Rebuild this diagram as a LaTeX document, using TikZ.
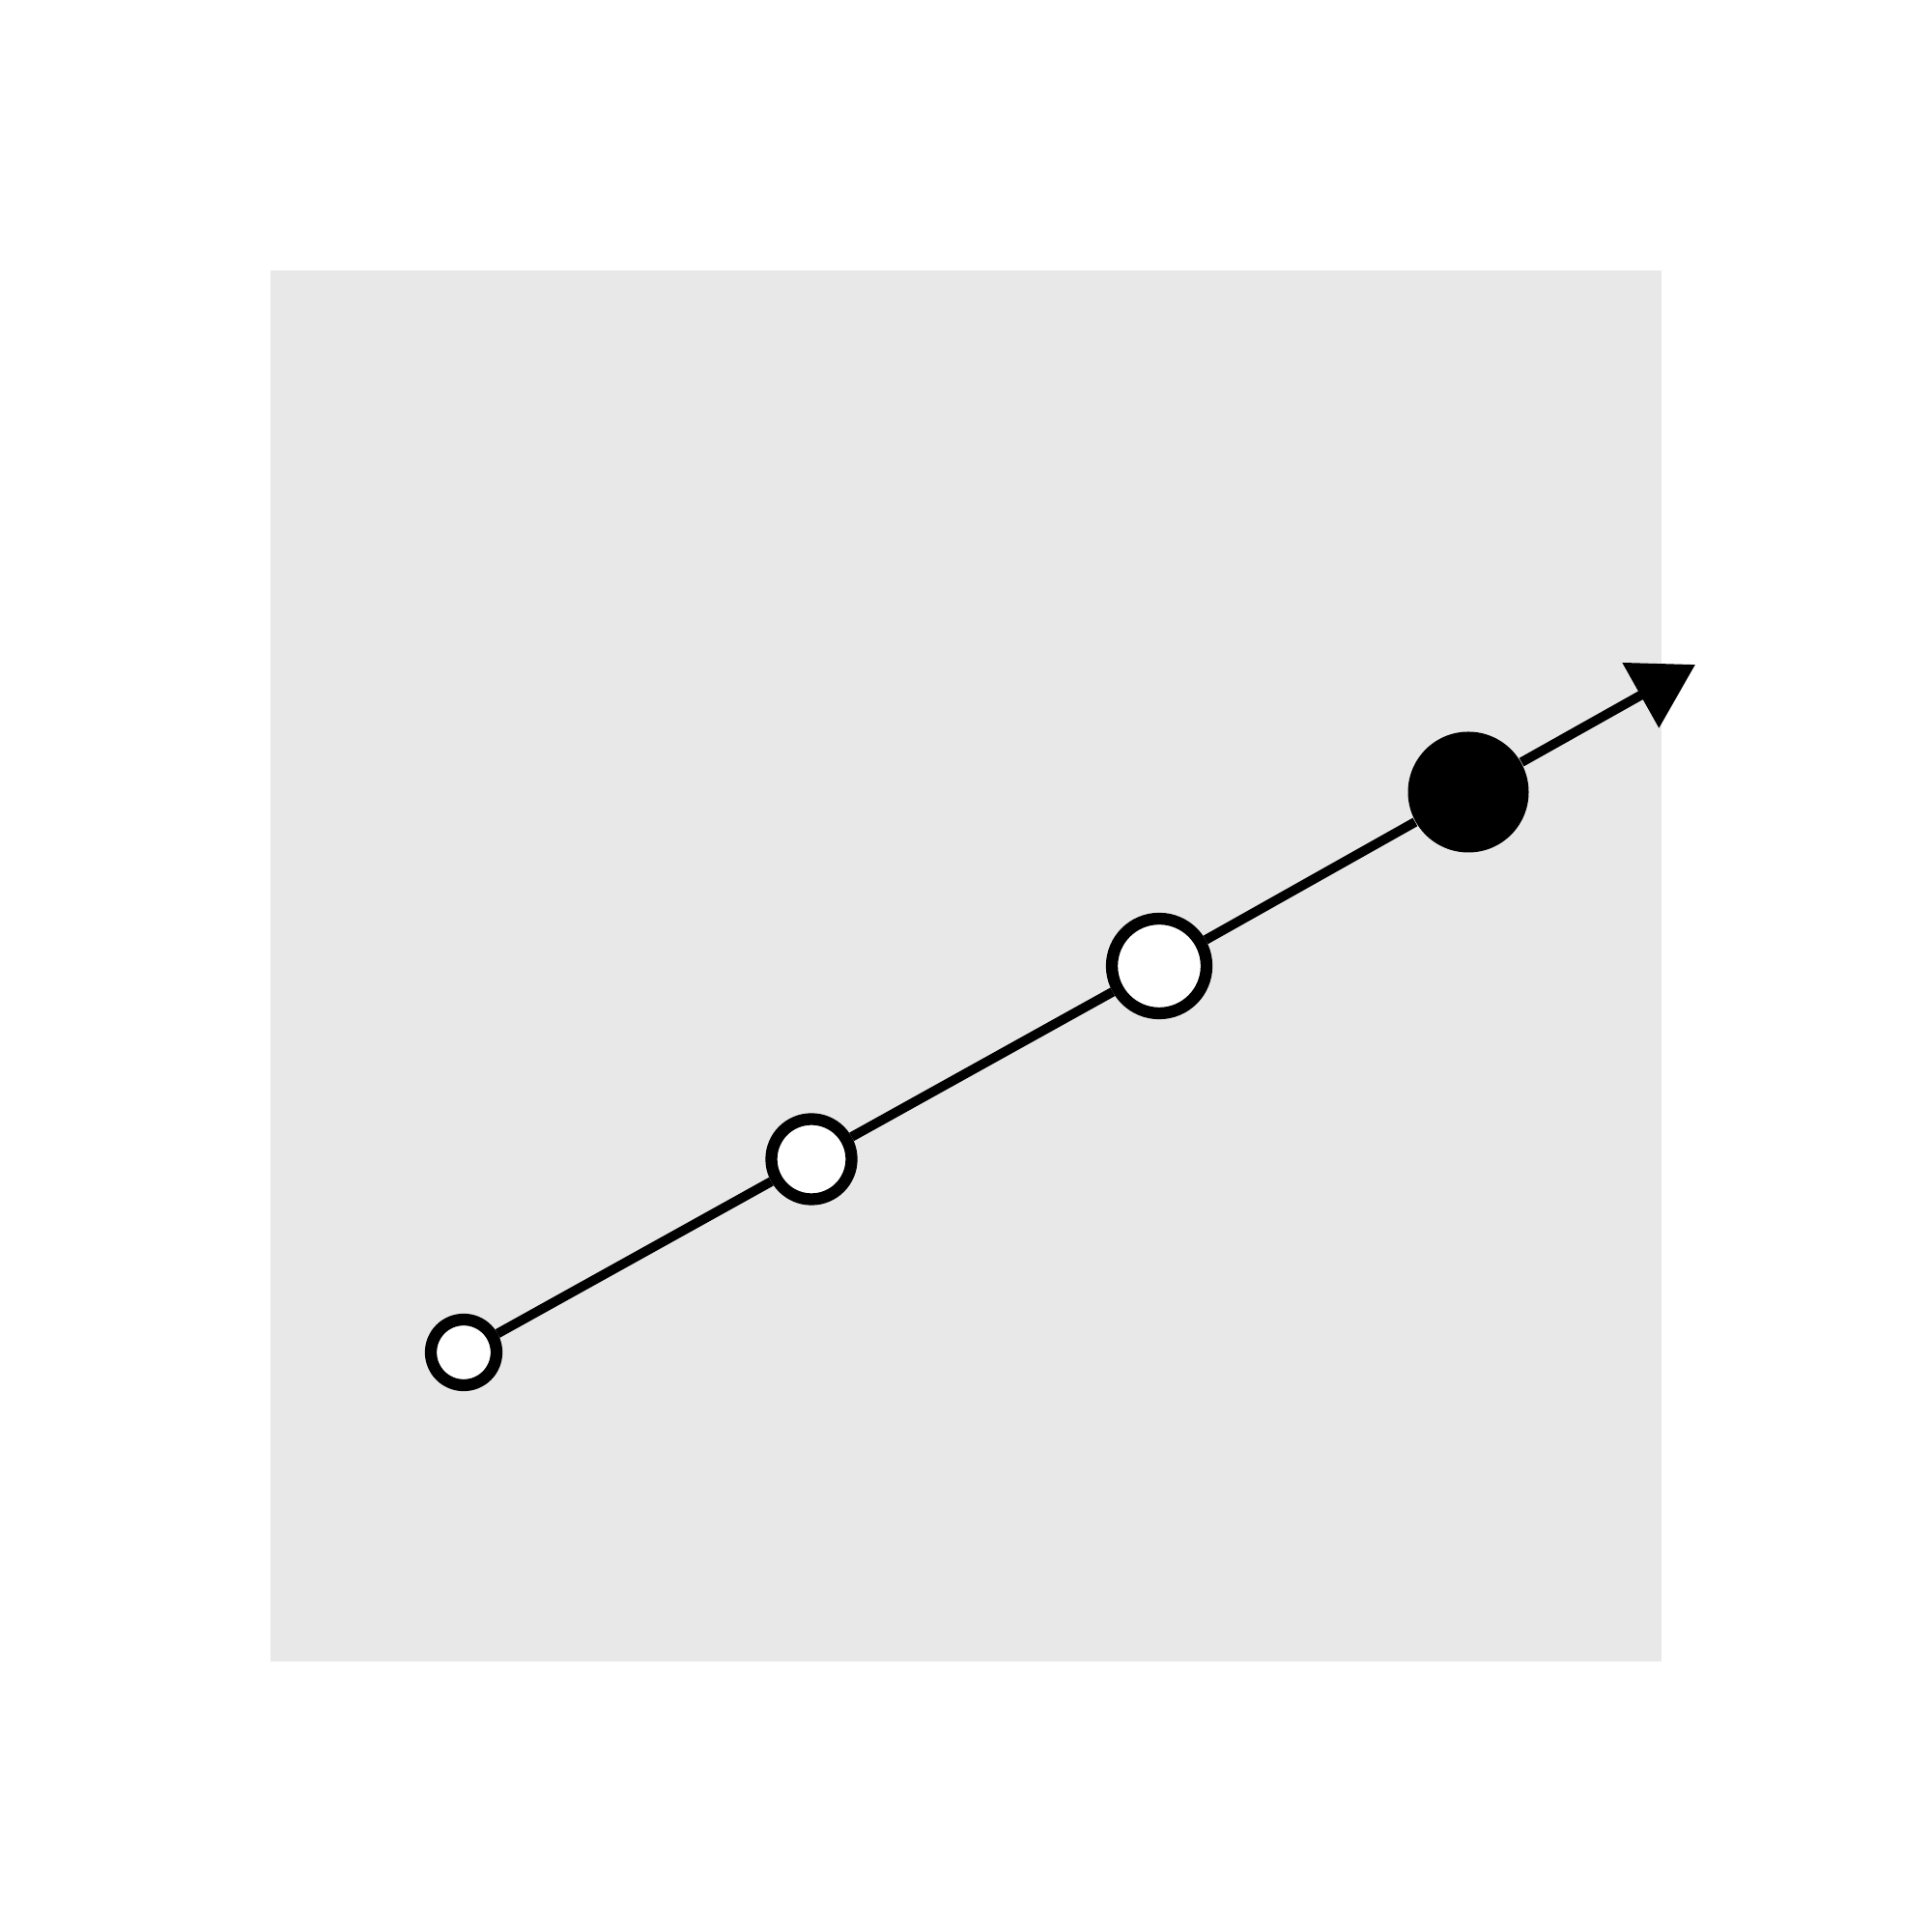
\documentclass[tikz,border=0pt]{standalone}
\usepackage{tikz}
\usetikzlibrary{arrows.meta}
\definecolor{panelgray}{HTML}{E8E8E8}
\tikzstyle{dotbox}=[circle, draw=black, fill=white, line width=3.5pt, inner sep=0pt]
\tikzstyle{dotfull}=[circle, fill=black, inner sep=0pt, minimum size=12.5mm]
\tikzstyle{pline}=[-, line width=2.8pt, black]
\tikzstyle{aline}=[-{Triangle[length=6.5mm, width=7.5mm]}, line width=2.8pt, black]

\begin{document}
\begin{tikzpicture}
  \useasboundingbox (0,0) rectangle (20,20);
  \fill[panelgray] (2.8,2.8) rectangle (17.2,17.2);

  \node (d1) [dotbox, minimum size=6.8mm] at (4.8,6.0) {};
  \node (d2) [dotbox, minimum size=8.3mm] at (8.4,8.0) {};
  \node (d3) [dotbox, minimum size=9.8mm] at (12.0,10.0) {};
  \node (d4) [dotfull] at (15.2,11.8) {};
  \coordinate (tip) at (17.55,13.12);

  \draw[pline] (d1) -- (d2) -- (d3) -- (d4);
  \draw[aline] (d4) -- (tip);

\end{tikzpicture}
\end{document}
